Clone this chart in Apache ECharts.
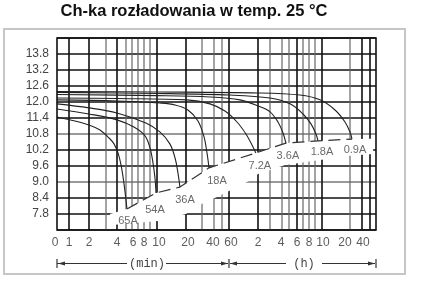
<!DOCTYPE html>
<html>
<head>
<meta charset="utf-8">
<script src="https://cdn.jsdelivr.net/npm/echarts@6/dist/echarts.min.js"></script>
<style>
html, body { margin: 0; padding: 0; background: #fff; }
#chart { width: 423px; height: 289px; }
</style>
</head>
<body>
<div id="chart"></div>
<script>
"use strict";

/*-----data: discharge time (min) / terminal voltage (V)-----*/
var currents = ['65A', '54A', '36A', '18A', '7.2A', '3.6A', '1.8A', '0.9A'];

var t65 = [0, 1.23, 2, 2.6, 3.25, 3.7, 4.1, 4.42, 4.76, 5.15];
var v65 = [11.44, 11.29, 11.14, 10.95, 10.65, 10.43, 10.09, 9.64, 8.93, 7.99];
var t54 = [0, 2, 4, 6.3, 8.16, 9, 9.42, 9.7, 9.85];
var v54 = [11.74, 11.55, 11.33, 11.06, 10.73, 10.28, 9.71, 9.15, 8.59];
var t36 = [0, 2, 4, 8.3, 10.7, 13.6, 15.4, 16.5, 17.3];
var v36 = [11.93, 11.78, 11.59, 11.21, 10.88, 10.43, 9.9, 9.34, 8.81];
var t18 = [0, 4, 10.7, 15.4, 21, 27.1, 31.5, 33.8, 35.5];
var v18 = [12.08, 12.04, 11.96, 11.89, 11.70, 11.29, 10.69, 10.09, 9.53];
var t7 = [0, 4, 20.5, 36.3, 54, 72.6, 90, 104, 114];
var v7 = [12.15, 12.13, 12.08, 11.93, 11.66, 11.25, 10.80, 10.39, 10.09];
var t3 = [0, 10, 36.3, 78, 120, 180, 218, 248, 272];
var v3 = [12.28, 12.24, 12.19, 12.08, 11.85, 11.63, 11.25, 10.84, 10.46];
var t1 = [0, 10, 61.4, 180, 307, 420, 499, 548, 565];
var v1 = [12.36, 12.32, 12.26, 12.15, 11.93, 11.55, 11.18, 10.80, 10.54];
var t09 = [0, 10, 120, 388, 582, 828, 1060, 1200, 1346];
var v09 = [12.39, 12.375, 12.34, 12.26, 12.08, 11.70, 11.25, 10.875, 10.61];

// vertical grid lines (min) and bottom tick labels
var gridMinutes = [1, 2, 3, 4, 5, 6, 7, 8, 9, 10, 20, 30, 40, 50, 60, 120, 180, 240, 300, 360, 420, 480, 540, 600, 1200, 2400, 3000];
var tickMinutes = [0, 1, 2, 4, 6, 8, 10, 20, 40, 60, 120, 240, 360, 480, 600, 1200, 2400];
var tickLabels = ['0', '1', '2', '4', '6', '8', '10', '20', '40', '60', '2', '4', '6', '8', '10', '20', '40'];

// lower edge of the blank band under the end-voltage line
var maskLowerT = [3.33, 3.51, 10.24, 20, 30, 43.5, 96.8, 120, 264, 1200, 3300];
var maskLowerV = [7.80, 7.39, 7.54, 7.80, 8.18, 8.44, 9.04, 9.30, 9.64, 9.98, 10.05];

/*-----time scale of the chart paper (not a true log scale)-----*/
var scaleMin = [0, 1, 2, 3, 4, 5, 6, 7, 8, 9, 10, 20, 30, 40, 50, 60, 120, 180, 240, 300, 360, 420, 480, 540, 600, 1200, 2400, 3000, 3600];
var scalePos = [0, 12, 32, 49, 60, 69, 75, 81, 87, 93, 100, 129, 145, 157, 165, 172, 201, 213, 225, 232, 240, 246, 252, 258, 265, 293, 305, 313, 319];
function pos(m) {
	if (m <= scaleMin[1]) return scalePos[1] * m / scaleMin[1];
	for (var i = 1; i < scaleMin.length - 1; i++) {
		if (m <= scaleMin[i + 1]) {
			var f = Math.log(m / scaleMin[i]) / Math.log(scaleMin[i + 1] / scaleMin[i]);
			return scalePos[i] + f * (scalePos[i + 1] - scalePos[i]);
		}
	}
	return scalePos[scalePos.length - 1];
}

var curves = [[t65, v65], [t54, v54], [t36, v36], [t18, v18], [t7, v7], [t3, v3], [t1, v1], [t09, v09]];
var labelOffset = [[1, 4], [-1, 9], [5, 5], [8, 5], [4, 5], [2, 5], [4, 3], [3, 3]];
var tickShift = [-2, 0, 0, 0, 1, 0, 2, 2, -1, 2, 0, -1, 0, 0, 1, -5, 1];
var majorMinutes = [1, 2, 4, 10, 20, 60, 120, 360, 600, 2400, 3000];

var endPoints = curves.map(function (c) {
	var n = c[0].length - 1;
	return [pos(c[0][n]), c[1][n]];
});

var maskPoints = maskLowerT.map(function (t, i) { return [pos(t), maskLowerV[i]]; });
maskPoints.push([pos(3300), 10.62]);
for (var k = endPoints.length - 1; k >= 0; k--) maskPoints.push(endPoints[k]);

var series = [];

/*-----vertical grid-----*/
series.push({
	type: 'custom',
	silent: true,
	z: 1,
	data: gridMinutes.map(function (m) { return [pos(m), 7.2, m]; }),
	renderItem: function (params, api) {
		var x = api.value(0);
		var p0 = api.coord([x, 7.2]);
		var p1 = api.coord([x, 14.4]);
		var major = majorMinutes.indexOf(api.value(2)) >= 0;
		return {
			type: 'line',
			shape: { x1: p0[0], y1: p0[1], x2: p1[0], y2: p1[1] },
			style: { stroke: major ? '#111' : '#666', lineWidth: major ? 1.6 : 1.2 }
		};
	}
});

/*-----blank band-----*/
series.push({
	type: 'custom',
	silent: true,
	z: 2,
	data: [[0, 7.2]],
	renderItem: function (params, api) {
		return {
			type: 'polygon',
			shape: { points: maskPoints.map(function (p) { return api.coord(p); }) },
			style: { fill: '#fff' }
		};
	}
});

/*-----discharge curves-----*/
curves.forEach(function (c, i) {
	series.push({
		name: currents[i],
		type: 'line',
		silent: true,
		z: 4,
		smooth: 0.35,
		symbol: 'none',
		lineStyle: { color: '#222', width: 1.1 },
		data: c[0].map(function (t, j) { return [pos(t), c[1][j]]; })
	});
});

/*-----end voltage line-----*/
series.push({
	type: 'line',
	silent: true,
	z: 5,
	symbol: 'none',
	lineStyle: { color: '#333', width: 1.2, type: [12, 6] },
	data: endPoints
});

/*-----current labels-----*/
series.push({
	type: 'scatter',
	silent: true,
	z: 6,
	symbolSize: 1,
	itemStyle: { color: 'transparent' },
	label: { show: true, position: 'bottom', distance: 2, color: '#444', fontSize: 11, fontFamily: 'Liberation Sans' },
	data: endPoints.map(function (p, i) {
		return { value: p, label: { formatter: currents[i], offset: labelOffset[i] } };
	})
});

/*-----bottom tick labels-----*/
series.push({
	type: 'scatter',
	silent: true,
	z: 6,
	symbolSize: 1,
	itemStyle: { color: 'transparent' },
	label: { show: true, position: 'bottom', distance: 6, color: '#333', fontSize: 12, fontFamily: 'Liberation Sans' },
	data: tickMinutes.map(function (m, i) {
		return { value: [pos(m), 7.2], label: { formatter: tickLabels[i], offset: [tickShift[i], 0] } };
	})
});

var chart = document.getElementById('chart');
var lineChart = echarts.init(chart);
var option = {
	animation: false,
	grid: {
		show: true,
		left: 57,
		right: 47,
		top: 38,
		bottom: 59,
		borderColor: '#111',
		borderWidth: 1.6,
		z: 7
	},
	xAxis: {
		type: 'value',
		min: 0,
		max: 319,
		show: false
	},
	yAxis: {
		type: 'value',
		min: 7.2,
		max: 14.4,
		interval: 0.6,
		axisLine: { show: false },
		axisTick: { show: false },
		axisLabel: {
			showMinLabel: false,
			showMaxLabel: false,
			color: '#444',
			fontSize: 12,
			fontFamily: 'Liberation Sans',
			margin: 8,
			formatter: function (v) { return v.toFixed(1); }
		},
		splitLine: {
			lineStyle: {
				color: ['#111', '#111', '#111', '#777', '#111', '#111', '#777', '#111', '#111', '#111', '#111', '#111', '#111'],
				width: 1.5
			}
		}
	},
	graphic: [
		{ type: 'rect', shape: { x: 4, y: 29, width: 401, height: 245 }, style: { fill: 'none', stroke: '#c6c6c6', lineWidth: 2 } },
		{
			type: 'text', x: 194, y: 11,
			style: {
				text: 'Ch-ka rozładowania w temp. 25 °C',
				align: 'center', verticalAlign: 'middle',
				font: 'bold 16.5px "Liberation Sans"', fill: '#111'
			}
		},
		{ type: 'line', shape: { x1: 57, y1: 259, x2: 57, y2: 268 }, style: { stroke: '#333', lineWidth: 1.2 } },
		{ type: 'line', shape: { x1: 229, y1: 259, x2: 229, y2: 268 }, style: { stroke: '#333', lineWidth: 1.2 } },
		{ type: 'line', shape: { x1: 376, y1: 259, x2: 376, y2: 268 }, style: { stroke: '#333', lineWidth: 1.2 } },
		{ type: 'line', shape: { x1: 57, y1: 263.5, x2: 127, y2: 263.5 }, style: { stroke: '#333', lineWidth: 1 } },
		{ type: 'line', shape: { x1: 166, y1: 263.5, x2: 228, y2: 263.5 }, style: { stroke: '#333', lineWidth: 1 } },
		{ type: 'line', shape: { x1: 230, y1: 263.5, x2: 286, y2: 263.5 }, style: { stroke: '#333', lineWidth: 1 } },
		{ type: 'line', shape: { x1: 322, y1: 263.5, x2: 375, y2: 263.5 }, style: { stroke: '#333', lineWidth: 1 } },
		{ type: 'polygon', shape: { points: [[58, 263.5], [65, 261.5], [65, 265.5]] }, style: { fill: '#333' } },
		{ type: 'polygon', shape: { points: [[228, 263.5], [221, 261.5], [221, 265.5]] }, style: { fill: '#333' } },
		{ type: 'polygon', shape: { points: [[230, 263.5], [237, 261.5], [237, 265.5]] }, style: { fill: '#333' } },
		{ type: 'polygon', shape: { points: [[375, 263.5], [368, 261.5], [368, 265.5]] }, style: { fill: '#333' } },
		{ type: 'text', x: 147, y: 263.5, style: { text: '(min)', align: 'center', verticalAlign: 'middle', font: '12px "Liberation Mono"', fill: '#444' } },
		{ type: 'text', x: 304, y: 263.5, style: { text: '(h)', align: 'center', verticalAlign: 'middle', font: '12px "Liberation Mono"', fill: '#444' } }
	],
	series: series
};
lineChart.setOption(option);
window.addEventListener('resize', function () {
	lineChart.resize();
});
</script>
</body>
</html>
